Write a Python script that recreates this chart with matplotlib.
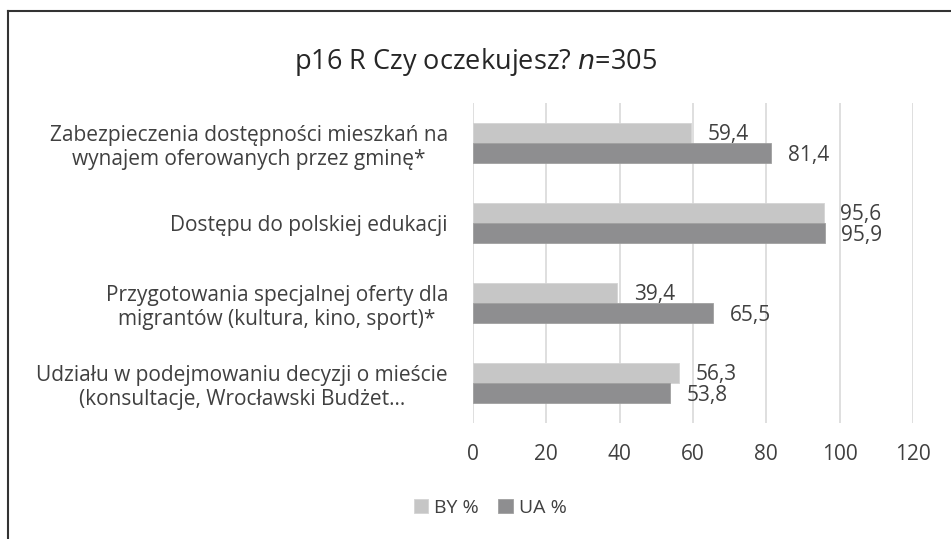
import matplotlib.pyplot as plt
import numpy as np
from matplotlib.lines import Line2D

plt.rcParams['font.family'] = ['Open Sans', 'DejaVu Sans']

categories = [
    'Zabezpieczenia dostępności mieszkań na\nwynajem oferowanych przez gminę*',
    'Dostępu do polskiej edukacji',
    'Przygotowania specjalnej oferty dla\nmigrantów (kultura, kino, sport)*',
    'Udziału w podejmowaniu decyzji o mieście\n(konsultacje, Wrocławski Budżet...',
]
by_vals = [59.4, 95.6, 39.4, 56.3]
ua_vals = [81.4, 95.9, 65.5, 53.8]
series = ['BY %', 'UA %']
x_ticks = [0, 20, 40, 60, 80, 100, 120]

txt = '#404040'
fig = plt.figure(figsize=(9.51, 5.39), dpi=100)
ax = fig.add_axes([473 / 951, 1 - 423 / 539, 440 / 951, 320 / 539])

y = np.arange(len(categories))
h = 0.256
b1 = ax.barh(y - h / 2, by_vals, height=h, color='#c6c6c6', edgecolor='#d4d4d4', lw=0.6, label=series[0], zorder=2)
b2 = ax.barh(y + h / 2, ua_vals, height=h, color='#8e8e90', edgecolor='#a0a0a0', lw=0.6, label=series[1], zorder=2)

for bars, vals in ((b1, by_vals), (b2, ua_vals)):
    for rect, v in zip(bars, vals):
        ax.annotate(f'{v:.1f}'.replace('.', ','), (v, rect.get_y() + rect.get_height() / 2),
                    xytext=(12, -1.5), textcoords='offset points', va='center', ha='left',
                    fontsize=15, color=txt)

ax.set_xlim(0, 120)
ax.set_ylim(len(categories) - 0.5, -0.5)
ax.set_xticks(x_ticks)
ax.set_xticklabels([str(t) for t in x_ticks])
ax.set_yticks(y)
ax.set_yticklabels(categories, ha='right', multialignment='center')
ax.tick_params(axis='y', length=0, pad=18, labelsize=15, labelcolor=txt)
ax.tick_params(axis='x', length=0, pad=15, labelsize=15, labelcolor=txt)
for lab in ax.get_yticklabels():
    lab.set_linespacing(1.2)
ax.xaxis.grid(True, color='#d9d9d9', lw=1.2, zorder=0)
for s in ax.spines.values():
    s.set_visible(False)

fig.text(0.5, 1 - 62 / 539, 'p16 R Czy oczekujesz? $\\it{n}$=305', ha='center', va='center',
         fontsize=19.5, color='#262626')
fig.legend(handles=[b1, b2], labels=series, loc='center', bbox_to_anchor=(490 / 951, 1 - 508 / 539),
           ncol=2, frameon=False, fontsize=14, labelcolor=txt, handlelength=0.75,
           handleheight=0.75, handletextpad=0.3, columnspacing=1.0)

# frame lines of the original cut-out
fig.add_artist(Line2D([8 / 951, 1], [1 - 11 / 539] * 2, color='#333333', lw=1.5, transform=fig.transFigure))
fig.add_artist(Line2D([8 / 951] * 2, [0, 1 - 11 / 539], color='#333333', lw=1.5, transform=fig.transFigure))

fig.savefig('out.png', dpi=100)
